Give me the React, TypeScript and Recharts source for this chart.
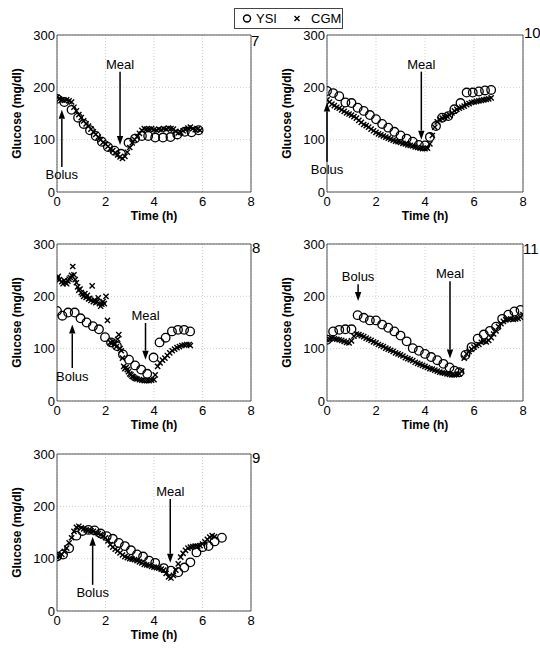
import React from 'react'
import { CartesianGrid, ReferenceArea, ReferenceLine, Scatter, ScatterChart, XAxis, YAxis } from 'recharts'

type Pt = [number, number]

const timeTicks = [0, 2, 4, 6, 8]
const glucoseTicks = [0, 100, 200, 300]

// subject 7
const ysi7: Pt[] = [[0, 178], [0.3, 172], [0.6, 157], [0.87, 142], [1.1, 130], [1.36, 118], [1.6, 107], [1.85, 96], [2.1, 86], [2.37, 79], [2.64, 73], [2.95, 94], [3.22, 102], [3.5, 107], [3.76, 107], [4.05, 104], [4.37, 104], [4.68, 105], [4.96, 110], [5.27, 115], [5.55, 114], [5.84, 118]]
const cgm7: Pt[] = [[0, 181], [0.1, 178], [0.2, 176], [0.3, 175], [0.4, 176], [0.5, 174], [0.6, 172], [0.7, 162], [0.8, 155], [0.9, 148], [1, 142], [1.1, 136], [1.2, 130], [1.3, 126], [1.4, 120], [1.5, 115], [1.6, 110], [1.7, 105], [1.8, 100], [1.9, 95], [2, 92], [2.1, 87], [2.2, 83], [2.3, 79], [2.4, 75], [2.5, 71], [2.6, 67], [2.7, 64], [2.8, 68], [2.9, 76], [3, 85], [3.1, 94], [3.2, 100], [3.3, 106], [3.4, 112], [3.5, 118], [3.6, 121], [3.7, 120], [3.8, 120], [3.9, 121], [4, 119], [4.1, 118], [4.2, 120], [4.3, 119], [4.4, 121], [4.5, 120], [4.6, 122], [4.7, 121], [4.8, 120], [4.9, 116], [5, 113], [5.1, 114], [5.2, 117], [5.3, 119], [5.4, 122], [5.5, 124], [5.6, 121], [5.7, 119], [5.8, 120], [5.9, 118]]

// subject 10
const ysi10: Pt[] = [[0, 193], [0.25, 189], [0.5, 183], [0.75, 171], [1, 170], [1.25, 161], [1.5, 155], [1.75, 147], [2, 139], [2.25, 130], [2.5, 123], [2.75, 115], [3, 108], [3.25, 102], [3.5, 96], [3.75, 90], [4, 89], [4.2, 105], [4.45, 126], [4.7, 142], [4.95, 145], [5.2, 158], [5.45, 170], [5.7, 190], [5.95, 190], [6.2, 192], [6.45, 194], [6.7, 195]]
const cgm10: Pt[] = [[0, 176], [0.1, 172], [0.2, 168], [0.3, 165], [0.4, 162], [0.5, 160], [0.6, 157], [0.7, 154], [0.8, 151], [0.9, 149], [1, 147], [1.1, 144], [1.2, 141], [1.3, 137], [1.4, 133], [1.5, 129], [1.6, 127], [1.7, 124], [1.8, 120], [1.9, 117], [2, 114], [2.1, 111], [2.2, 109], [2.3, 107], [2.4, 105], [2.5, 103], [2.6, 101], [2.7, 99], [2.8, 97], [2.9, 96], [3, 95], [3.1, 93], [3.2, 92], [3.3, 90], [3.4, 89], [3.5, 88], [3.6, 86], [3.7, 85], [3.8, 84], [3.9, 83], [4, 83], [4.1, 84], [4.2, 92], [4.3, 108], [4.4, 124], [4.5, 134], [4.6, 139], [4.7, 141], [4.8, 143], [4.9, 145], [5, 147], [5.1, 151], [5.2, 155], [5.3, 158], [5.4, 160], [5.5, 162], [5.6, 164], [5.7, 167], [5.8, 169], [5.9, 171], [6, 172], [6.1, 173], [6.2, 174], [6.3, 175], [6.4, 176], [6.5, 177], [6.6, 178], [6.7, 180]]

// subject 8
const ysi8: Pt[] = [[0, 172], [0.22, 163], [0.46, 169], [0.73, 169], [0.97, 158], [1.22, 150], [1.48, 143], [1.73, 137], [1.98, 122], [2.23, 112], [2.47, 105], [2.72, 89], [2.97, 79], [3.22, 68], [3.47, 60], [3.72, 52], [3.98, 83], [4.23, 112], [4.48, 121], [4.74, 133], [4.99, 136], [5.24, 136], [5.49, 133]]
const cgm8: Pt[] = [[0, 234], [0.05, 238], [0.1, 232], [0.2, 228], [0.25, 224], [0.3, 230], [0.35, 226], [0.4, 224], [0.45, 229], [0.5, 233], [0.55, 236], [0.6, 240], [0.65, 257], [0.7, 241], [0.75, 232], [0.8, 226], [0.85, 218], [0.9, 212], [0.95, 214], [1, 207], [1.05, 204], [1.1, 200], [1.15, 205], [1.2, 198], [1.25, 202], [1.3, 195], [1.35, 196], [1.4, 192], [1.45, 220], [1.5, 190], [1.55, 193], [1.6, 188], [1.65, 190], [1.7, 197], [1.75, 186], [1.8, 181], [1.85, 185], [1.9, 190], [1.95, 186], [2.02, 200], [2.08, 154], [2.2, 112], [2.25, 110], [2.3, 114], [2.35, 108], [2.4, 109], [2.45, 104], [2.5, 118], [2.55, 127], [2.6, 100], [2.65, 96], [2.7, 82], [2.75, 66], [2.8, 62], [2.85, 64], [2.9, 60], [2.95, 56], [3, 52], [3.05, 50], [3.1, 47], [3.15, 46], [3.2, 44], [3.25, 43], [3.3, 42], [3.4, 41], [3.5, 40], [3.6, 39], [3.7, 39], [3.8, 39], [3.9, 40], [4, 41], [4.05, 50], [4.15, 66], [4.25, 73], [4.35, 78], [4.45, 82], [4.55, 87], [4.65, 92], [4.75, 96], [4.85, 99], [4.95, 102], [5.05, 104], [5.15, 106], [5.25, 107], [5.35, 108], [5.45, 108], [5.5, 106]]

// subject 11
const ysi11: Pt[] = [[0, 117], [0.25, 133], [0.5, 136], [0.75, 137], [1, 137], [1.25, 164], [1.5, 159], [1.75, 154], [2, 154], [2.25, 146], [2.5, 140], [2.75, 133], [3, 125], [3.25, 114], [3.5, 101], [3.75, 96], [4, 90], [4.25, 84], [4.5, 78], [4.75, 71], [5, 64], [5.2, 58], [5.4, 55], [5.65, 88], [5.9, 103], [6.15, 119], [6.4, 127], [6.65, 134], [6.9, 142], [7.15, 157], [7.4, 165], [7.65, 171], [7.9, 174]]
const cgm11: Pt[] = [[0, 117], [0.1, 118], [0.2, 120], [0.3, 119], [0.4, 118], [0.5, 117], [0.6, 116], [0.7, 114], [0.8, 112], [0.9, 111], [1, 115], [1.1, 124], [1.2, 128], [1.3, 127], [1.4, 125], [1.5, 123], [1.6, 120], [1.7, 118], [1.8, 116], [1.9, 113], [2, 111], [2.1, 108], [2.2, 106], [2.3, 104], [2.4, 101], [2.5, 99], [2.6, 97], [2.7, 95], [2.8, 92], [2.9, 90], [3, 88], [3.1, 86], [3.2, 83], [3.3, 81], [3.4, 79], [3.5, 77], [3.6, 74], [3.7, 72], [3.8, 70], [3.9, 68], [4, 66], [4.1, 64], [4.2, 62], [4.3, 61], [4.4, 59], [4.5, 57], [4.6, 55], [4.7, 54], [4.8, 53], [4.9, 52], [5, 51], [5.1, 50], [5.2, 50], [5.3, 51], [5.4, 52], [5.5, 57], [5.6, 82], [5.7, 90], [5.8, 95], [5.9, 99], [6, 103], [6.1, 106], [6.2, 108], [6.3, 112], [6.4, 114], [6.5, 113], [6.6, 116], [6.7, 121], [6.8, 128], [6.9, 134], [7, 142], [7.1, 148], [7.2, 152], [7.3, 155], [7.4, 156], [7.5, 157], [7.6, 156], [7.7, 157], [7.8, 158], [7.9, 160], [8, 165]]

// subject 9
const ysi9: Pt[] = [[0, 104], [0.25, 108], [0.5, 120], [0.8, 144], [1.05, 153], [1.3, 155], [1.55, 154], [1.8, 148], [2.05, 143], [2.3, 138], [2.55, 130], [2.8, 124], [3.05, 116], [3.3, 108], [3.55, 104], [3.8, 96], [4.05, 92], [4.4, 82], [4.7, 77], [5, 74], [5.25, 83], [5.5, 93], [5.75, 112], [6, 122], [6.25, 124], [6.5, 133], [6.8, 140]]
const cgm9: Pt[] = [[0, 103], [0.1, 105], [0.2, 108], [0.3, 114], [0.4, 120], [0.5, 130], [0.6, 140], [0.7, 152], [0.8, 160], [0.9, 162], [1, 159], [1.1, 157], [1.2, 155], [1.3, 154], [1.4, 153], [1.5, 152], [1.6, 150], [1.7, 148], [1.8, 146], [1.9, 143], [2, 140], [2.1, 134], [2.2, 127], [2.3, 122], [2.4, 118], [2.5, 115], [2.6, 111], [2.7, 107], [2.8, 104], [2.9, 102], [3, 100], [3.1, 99], [3.2, 98], [3.3, 96], [3.4, 94], [3.5, 92], [3.6, 89], [3.7, 88], [3.8, 87], [3.9, 85], [4, 84], [4.1, 83], [4.2, 82], [4.3, 80], [4.4, 78], [4.5, 72], [4.6, 65], [4.7, 63], [4.8, 68], [4.9, 78], [5, 90], [5.1, 103], [5.2, 110], [5.3, 116], [5.4, 120], [5.5, 122], [5.6, 123], [5.7, 124], [5.8, 124], [5.9, 125], [6, 128], [6.1, 132], [6.2, 137], [6.3, 141], [6.4, 144], [6.5, 142]]

// annotations: time, tail value, tip value
const marks7 = [{ text: 'Bolus', t: 0.2, from: 48, to: 157 }, { text: 'Meal', t: 2.6, from: 230, to: 90 }]
const marks10 = [{ text: 'Bolus', t: 0, from: 58, to: 171 }, { text: 'Meal', t: 3.85, from: 230, to: 100 }]
const marks8 = [{ text: 'Bolus', t: 0.63, from: 63, to: 146 }, { text: 'Meal', t: 3.65, from: 149, to: 79 }]
const marks11 = [{ text: 'Bolus', t: 1.27, from: 223, to: 191 }, { text: 'Meal', t: 5.02, from: 229, to: 81 }]
const marks9 = [{ text: 'Bolus', t: 1.47, from: 50, to: 142 }, { text: 'Meal', t: 4.67, from: 214, to: 92 }]

const panels = [
	{ name: '7', ysi: ysi7, cgm: cgm7, marks: marks7, left: 0, top: 25, mr: 19, tagX: 251, tagY: 47 },
	{ name: '10', ysi: ysi10, cgm: cgm10, marks: marks10, left: 270, top: 25, mr: 17, tagX: 524, tagY: 39 },
	{ name: '8', ysi: ysi8, cgm: cgm8, marks: marks8, left: 0, top: 234, mr: 19, tagX: 252, tagY: 254 },
	{ name: '11', ysi: ysi11, cgm: cgm11, marks: marks11, left: 270, top: 234, mr: 17, tagX: 523, tagY: 255 },
	{ name: '9', ysi: ysi9, cgm: cgm9, marks: marks9, left: 0, top: 444, mr: 19, tagX: 252, tagY: 464 },
]

const toRows = (pts: Pt[]) => pts.map(([t, g]) => ({ t, g }))

const Ring = (p: any) => <circle cx={p.cx} cy={p.cy} r={4.3} fill='none' stroke='#000' strokeWidth={1.3} />

const Cross = (p: any) => {
	const d = 2.6
	return <path d={`M${p.cx - d},${p.cy - d}L${p.cx + d},${p.cy + d}M${p.cx - d},${p.cy + d}L${p.cx + d},${p.cy - d}`}
							 stroke='#000' strokeWidth={1.4} fill='none' />
}

const arrowShape = (text: string) => (p: any) => {
	const { x1, y1, x2, y2 } = p
	const dir = y2 > y1 ? 1 : -1
	const head = 9
	const half = 3.2
	const ty = dir === 1 ? y1 - 3 : y1 + 12.5
	return <g>
		<line x1={x1} y1={y1} x2={x2} y2={y2 - dir * head} stroke='#000' strokeWidth={1.5} />
		<polygon points={`${x2},${y2} ${x2 - half},${y2 - dir * head} ${x2 + half},${y2 - dir * head}`} fill='#000' />
		<text x={x1} y={ty} textAnchor='middle' fontSize={13} fill='#000'>{text}</text>
	</g>
}

const Panel = ({ panel }) => {
	return <div style={{ position: 'absolute', left: panel.left, top: panel.top }}>
		<ScatterChart width={270} height={202} margin={{ top: 10, right: panel.mr, bottom: 0, left: 9 }}>
			<CartesianGrid stroke='#cfcfcf' strokeDasharray='1 2' />
			<XAxis type='number' dataKey='t' domain={[0, 8]} ticks={timeTicks} interval={0} allowDataOverflow
						 axisLine={false} tickLine={false} tickSize={0} tickMargin={5} height={35}
						 tick={{ fill: '#000', fontSize: 13 }}
						 label={{ value: 'Time (h)', position: 'insideBottom', offset: 7, fontWeight: 'bold', fontSize: 12, fill: '#000' }} />
			<YAxis type='number' dataKey='g' domain={[0, 300]} ticks={glucoseTicks} interval={0} allowDataOverflow
						 width={48} axisLine={false} tickLine={false} tickSize={0} tickMargin={2}
						 tick={{ fill: '#000', fontSize: 13 }}
						 label={{ value: 'Glucose (mg/dl)', angle: -90, position: 'insideLeft', offset: 8, fontWeight: 'bold', fontSize: 12, fill: '#000', style: { textAnchor: 'middle' } }} />
			<ReferenceArea x1={0} x2={8} y1={0} y2={300} fill='none' stroke='#555' strokeWidth={1} />
			<Scatter data={toRows(panel.cgm)} shape={Cross} isAnimationActive={false} />
			<Scatter data={toRows(panel.ysi)} shape={Ring} isAnimationActive={false} />
			{panel.marks.map((m) => (
				<ReferenceLine key={m.text} segment={[{ x: m.t, y: m.from }, { x: m.t, y: m.to }]}
											 shape={arrowShape(m.text)} />
			))}
		</ScatterChart>
	</div>
}

export default function App() {
	return <div style={{ position: 'absolute', left: 0, top: 0, width: 540, height: 653, background: '#fff', fontFamily: '"Liberation Sans", Arial, sans-serif' }}>
		{panels.map((p) => <Panel key={p.name} panel={p} />)}
		{panels.map((p) => (
			<div key={'tag' + p.name} style={{ position: 'absolute', left: p.tagX, top: p.tagY - 14, fontSize: 15, lineHeight: '15px', color: '#000' }}>{p.name}</div>
		))}
		<svg width={540} height={40} style={{ position: 'absolute', left: 0, top: 0 }}>
			<rect x={234.5} y={8.5} width={108} height={20} fill='#fff' stroke='#444' />
			<circle cx={247} cy={18.5} r={3.5} fill='none' stroke='#000' strokeWidth={1.4} />
			<text x={256} y={23} fontSize={13} fill='#000'>YSI</text>
			<path d='M294.5,16 L299.5,21 M294.5,21 L299.5,16' stroke='#000' strokeWidth={1.4} />
			<text x={311} y={23} fontSize={13} fill='#000'>CGM</text>
		</svg>
	</div>
}
